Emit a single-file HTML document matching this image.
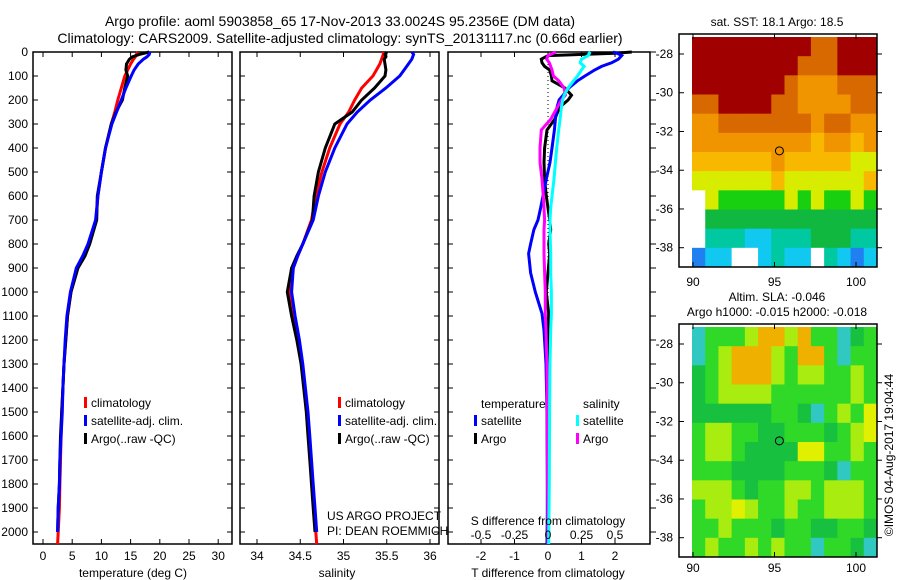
<!DOCTYPE html>
<html><head><meta charset="utf-8"><style>
body{margin:0;background:#fff}
svg{display:block;font-family:"Liberation Sans",Arial,sans-serif}
</style></head><body>
<svg id="fig" width="900" height="580" viewBox="0 0 900 580">
<text x="340" y="26" font-size="14" text-anchor="middle">Argo profile: aoml 5903858_65 17-Nov-2013 33.0024S 95.2356E (DM data)</text>
<text x="340" y="43" font-size="14" text-anchor="middle">Climatology: CARS2009. Satellite-adjusted climatology: synTS_20131117.nc (0.66d earlier)</text>
<g id="p1"></g>
<g id="p2"></g>
<g id="p3"></g>
<g id="m1"></g>
<g id="m2"></g>
<text x="777" y="26" font-size="12" text-anchor="middle">sat. SST: 18.1 Argo: 18.5</text>
<text x="777" y="301" font-size="12" text-anchor="middle">Altim. SLA: -0.046</text>
<text x="777" y="316" font-size="12" text-anchor="middle">Argo h1000: -0.015 h2000: -0.018</text>
<text x="0" y="0" font-size="12" text-anchor="middle" transform="translate(893,455) rotate(-90)">©IMOS 04-Aug-2017 19:04:44</text>
<text x="327" y="520" font-size="12">US ARGO PROJECT</text>
<text x="327" y="535" font-size="12">PI: DEAN ROEMMICH</text>
</svg>
<script>
// ---- profile data ----
const depths = [0,10,20,30,50,75,100,150,200,250,300,400,500,600,700,800,850,900,1000,1100,1200,1300,1400,1500,1600,1700,1800,1900,2000,2050];
const tempClim = [16.2,16.0,15.8,15.5,15.0,14.5,14.0,13.4,12.8,12.3,11.7,10.7,10.0,9.4,9.1,7.9,7.0,5.9,4.8,4.2,3.9,3.6,3.4,3.2,3.1,3.0,2.9,2.8,2.6,2.5];
const tempSat = [18.3,18.2,17.8,17.2,16.3,15.6,15.1,14.2,13.4,12.6,11.8,10.7,10.0,9.4,9.0,7.7,6.8,5.7,4.7,4.1,3.8,3.6,3.4,3.3,3.1,2.9,2.8,2.6,2.5,null];
const tempArgo = [18.2,16.5,15.3,14.8,14.3,14.2,14.5,14.0,13.6,12.5,11.7,10.7,10.0,9.3,9.2,8.0,7.2,6.0,4.8,4.2,3.9,3.6,3.4,3.2,3.0,2.9,2.8,2.6,2.5,null];
const salClim = [35.46,35.46,35.45,35.44,35.42,35.38,35.34,35.21,35.13,35.06,34.96,34.84,34.75,34.68,34.63,34.53,34.47,34.42,34.38,34.42,34.47,34.52,34.55,34.58,34.60,34.62,34.64,34.66,34.68,34.69];
const salSat = [35.79,35.81,35.80,35.79,35.75,35.70,35.65,35.49,35.31,35.16,35.04,34.90,34.79,34.71,34.65,34.53,34.47,34.42,34.40,34.44,34.49,34.53,34.56,34.59,34.61,34.63,34.65,34.67,34.69,null];
const salArgo = [35.50,35.48,35.49,35.47,35.48,35.49,35.48,35.36,35.21,35.10,34.90,34.79,34.71,34.66,34.64,34.53,34.46,34.40,34.35,34.40,34.46,34.51,34.54,34.57,34.59,34.61,34.63,34.65,34.67,null];
const diffDepths = [0,5,15,30,45,60,75,100,120,150,180,200,230,280,325,400,460,530,600,650,700,740,800,840,920,1000,1090,1160,1300,1500,1800,2050];
const tDiffSat = [1.94,2.06,2.2,2.1,1.9,1.6,1.39,1.1,0.88,0.62,0.45,0.33,0.27,0.22,0.19,0.12,0.06,-0.05,-0.15,-0.22,-0.3,-0.42,-0.52,-0.58,-0.52,-0.38,-0.18,-0.12,-0.06,-0.03,-0.02,-0.02];
const tDiffArgo = [2.5,2.0,0.0,-0.2,-0.18,-0.1,0.05,0.1,0.12,0.5,0.7,0.6,0.35,0.2,-0.03,-0.1,-0.12,-0.1,-0.05,0.0,0.05,0.08,0.02,0.05,0.0,-0.05,0.02,0.0,0.0,-0.02,0.0,-0.03];
const sDiffSat = [0.3,0.31,0.3,0.25,0.24,0.27,0.25,0.22,0.19,0.15,0.12,0.11,0.1,0.09,0.08,0.065,0.055,0.045,0.03,0.02,0.015,0.015,0.018,0.02,0.02,0.025,0.025,0.02,0.015,0.012,0.01,0.005];
const sDiffArgo = [0.06,0.04,0.0,-0.01,0.01,0.02,0.03,0.04,0.08,0.12,0.13,0.1,0.07,0.02,-0.05,-0.06,-0.06,-0.045,-0.035,-0.03,-0.025,-0.03,-0.03,-0.03,-0.025,-0.02,-0.02,-0.015,-0.008,-0.005,-0.003,0];
const depthTicks = [0,100,200,300,400,500,600,700,800,900,1000,1100,1200,1300,1400,1500,1600,1700,1800,1900,2000];
const tempTicks = [0,5,10,15,20,25,30];
const salTicks = [34,34.5,35,35.5,36];
const tDiffTicks = [-2,-1,0,1,2];
const sDiffTicks = [-0.5,-0.25,0,0.25,0.5];
const sDiffTickLabels = ["-0.5","-0.25","0","0.25","0.5"];
// ---- map data (colour level codes per cell, north to south) ----
const sstRows = ["11111111122111","11111111222111","11111112333222","22111122333322","33222222232233","33333333343343","44444434444455","55555545555554","05666665656656","07777777777777","08889988877788","A99009899089A9"];
const slaRows = ["cgggyooyoggcdg","cgyoooygoogcgg","dgyoooygyyggyg","dgyyyyggggggyg","ddddddggdcgygY","gyyggddgggdgyY","gyygddddYYggyg","gggddddgggdcgg","yyygdggyygyyyg","gyyYyggyggyyyg","ggygggdggddggd","gyggygyggcggdc"];
const latTicks = [-28,-30,-32,-34,-36,-38];
const lonTicks = [90,95,100];
const argoLon = 95.3, argoLat = -33.0;

const NS = "http://www.w3.org/2000/svg";
function mk(parent, tag, attrs, txt){const e=document.createElementNS(NS,tag);for(const k in attrs)e.setAttribute(k,attrs[k]);if(txt!==undefined)e.textContent=txt;parent.appendChild(e);return e;}
const yD = d => 52 + d*0.24;
const yTop=52, yBot=544;

function frame(g, x0, x1, xScale, xt, xl, leftLabels, rightOut){
  let r = mk(g,'rect',{x:x0,y:yTop,width:x1-x0,height:yBot-yTop,fill:'none',stroke:'#000','stroke-width':1.5});
  
  
  depthTicks.forEach(d=>{
    const y=yD(d);
    mk(g,'line',{x1:x0,x2:x0+5,y1:y,y2:y,stroke:'#000'});
    if(rightOut) mk(g,'line',{x1:x1,x2:x1+6,y1:y,y2:y,stroke:'#000'});
    else mk(g,'line',{x1:x1-5,x2:x1,y1:y,y2:y,stroke:'#000'});
    if(leftLabels){
      const tl=mk(g,'text',{x:28,y:y+4,'font-size':12,'text-anchor':'end'},String(d));
      
      
    }
  });
  xt.forEach((v,i)=>{
    const x=xScale(v);
    mk(g,'line',{x1:x,x2:x,y1:yBot,y2:yBot-5,stroke:'#000'});
    mk(g,'line',{x1:x,x2:x,y1:yTop,y2:yTop+5,stroke:'#000'});
    const tl=mk(g,'text',{x:x,y:560,'font-size':12,'text-anchor':'middle'},xl?xl[i]:String(v));
    
    
  });
}
function line(g, xs, ds, xScale, color, name){
  let pts=[];
  xs.forEach((v,i)=>{ if(v!==null) pts.push(xScale(v).toFixed(1)+','+yD(ds[i]).toFixed(1)); });
  const p=mk(g,'polyline',{points:pts.join(' '),fill:'none',stroke:color,'stroke-width':3,'stroke-linejoin':'miter'});
  
  
}
function legend(g, x, y, color, label){
  mk(g,'rect',{x:x,y:y-10,width:3,height:11,fill:color});
  const tl=mk(g,'text',{x:x+7,y:y,'font-size':12},label);
  
  
}

// panel 1
const p1=document.getElementById('p1');
const xT = v => 43 + v*5.84;
frame(p1,33,232,xT,tempTicks,null,true,false);
line(p1,tempClim,depths,xT,'#f00','temp-climatology-line');
line(p1,tempArgo,depths,xT,'#000','temp-argo-line');
line(p1,tempSat,depths,xT,'#00f','temp-satellite-line');
legend(p1,84,407,'#f00','climatology');
legend(p1,84,425,'#00f','satellite-adj. clim.');
legend(p1,84,443,'#000','Argo(..raw -QC)');
let tx=mk(p1,'text',{x:133,y:577,'font-size':12,'text-anchor':'middle'},'temperature (deg C)');



// panel 2
const p2=document.getElementById('p2');
const xS = v => 257 + (v-34)*86.5;
frame(p2,240,439,xS,salTicks,null,false,false);
line(p2,salClim,depths,xS,'#f00','sal-climatology-line');
line(p2,salArgo,depths,xS,'#000','sal-argo-line');
line(p2,salSat,depths,xS,'#00f','sal-satellite-line');
legend(p2,338,407,'#f00','climatology');
legend(p2,338,425,'#00f','satellite-adj. clim.');
legend(p2,338,443,'#000','Argo(..raw -QC)');
tx=mk(p2,'text',{x:337,y:577,'font-size':12,'text-anchor':'middle'},'salinity');



// panel 3
const p3=document.getElementById('p3');
const xTd = v => 548 + v*33.5;
const xSd = v => 548 + v*134;
frame(p3,448,650,xTd,tDiffTicks,null,false,true);
mk(p3,'line',{x1:548,x2:548,y1:yTop,y2:yBot,stroke:'#000','stroke-width':1,'stroke-dasharray':'1,3'});
line(p3,tDiffArgo,diffDepths,xTd,'#000','tdiff-argo-line');
line(p3,tDiffSat,diffDepths,xTd,'#00f','tdiff-satellite-line');
line(p3,sDiffArgo,diffDepths,xSd,'#f0f','sdiff-argo-line');
line(p3,sDiffSat,diffDepths,xSd,'#0ff','sdiff-satellite-line');
sDiffTicks.forEach((v,i)=>{
  const tt=mk(p3,'text',{x:xSd(v),y:539,'font-size':12,'text-anchor':'middle'},sDiffTickLabels[i]);
  
  
});
tx=mk(p3,'text',{x:548,y:525,'font-size':12,'text-anchor':'middle'},'S difference from climatology');


tx=mk(p3,'text',{x:548,y:577,'font-size':12,'text-anchor':'middle'},'T difference from climatology');


tx=mk(p3,'text',{x:481,y:408,'font-size':12},'temperature');


tx=mk(p3,'text',{x:583,y:408,'font-size':12},'salinity');


legend(p3,474,425,'#00f','satellite');
legend(p3,474,443,'#000','Argo');
legend(p3,576,425,'#0ff','satellite');
legend(p3,576,443,'#f0f','Argo');

// maps
const sstCol={'0':'#fff','1':'#a00000','2':'#d86800','3':'#f09400','4':'#f8b800','5':'#d8ec00','6':'#18d010','7':'#10b840','8':'#00c8a0','9':'#10c8f0','A':'#2080f0'};
const slaCol={'g':'#30d828','d':'#18c040','y':'#a8ec10','Y':'#e0f000','o':'#f0b000','c':'#30c8c0'};
function map(id, fy, rows, cols, labelY){
  const g=document.getElementById(id);
  const x0=679,x1=877,dx0=692,y0=fy,y1=fy+233,dy0=fy+3;
  const cw=(x1-dx0)/rows[0].length, ch=(y1-dy0)/rows.length;
  rows.forEach((r,i)=>{ for(let j=0;j<r.length;j++){
    const c=mk(g,'rect',{x:dx0+j*cw,y:dy0+i*ch,width:cw+0.5,height:ch+0.5,fill:cols[r[j]]});
    
    
  }});
  const lonX = v => 693 + (v-90)*16.3;
  const latY = v => fy+20 + (-28-v)*19.37;
  mk(g,'rect',{x:x0,y:y0,width:x1-x0,height:y1-y0,fill:'none',stroke:'#000','stroke-width':1.5});
  latTicks.forEach(v=>{const y=latY(v);
    mk(g,'line',{x1:x0,x2:x0+5,y1:y,y2:y,stroke:'#000'});
    mk(g,'line',{x1:x1,x2:x1+5,y1:y,y2:y,stroke:'#000'});
    const tt=mk(g,'text',{x:673,y:y+4,'font-size':12,'text-anchor':'end'},String(v));
    
    
  });
  lonTicks.forEach(v=>{const x=lonX(v);
    mk(g,'line',{x1:x,x2:x,y1:y1,y2:y1-5,stroke:'#000'});
    mk(g,'line',{x1:x,x2:x,y1:y0,y2:y0+5,stroke:'#000'});
    const tt=mk(g,'text',{x:x,y:labelY,'font-size':12,'text-anchor':'middle'},String(v));
    
    
  });
  const c=mk(g,'circle',{cx:lonX(argoLon),cy:latY(argoLat),r:4,fill:'none',stroke:'#000','stroke-width':1});
  
  
}
map('m1',34,sstRows,sstCol,286);
map('m2',324,slaRows,slaCol,572);
</script>
</body></html>
